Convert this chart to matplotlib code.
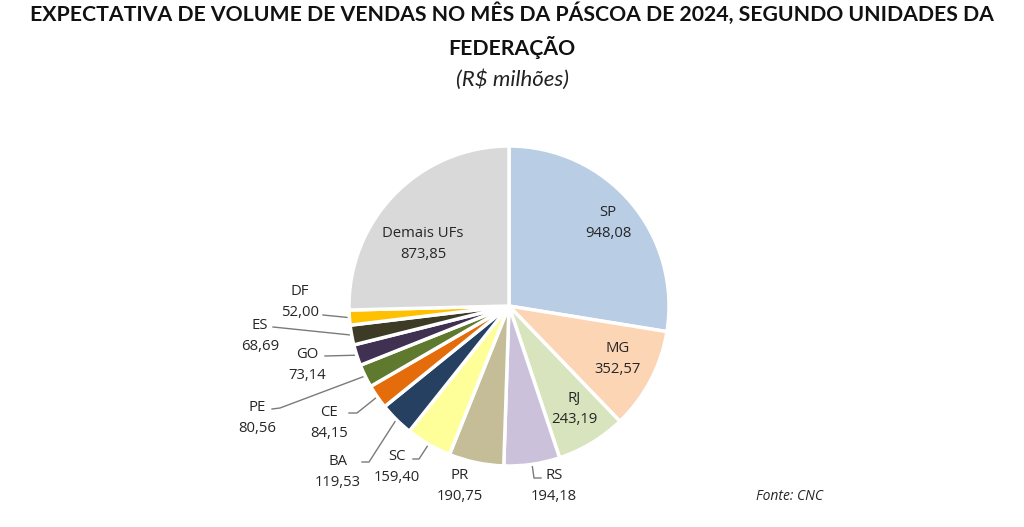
import numpy as np
import matplotlib
matplotlib.use("Agg")
import matplotlib.pyplot as plt

# =====================================================
# DADOS
# =====================================================
ufs = ["SP", "MG", "RJ", "RS", "PR", "SC", "BA", "CE", "PE", "GO", "ES", "DF", "Demais UFs"]
valores = [948.08, 352.57, 243.19, 194.18, 190.75, 159.40, 119.53, 84.15, 80.56, 73.14, 68.69, 52.00, 873.85]
cores = ["#b9cde5", "#fcd5b5", "#d7e4bd", "#ccc1da", "#c4bd97", "#ffff99",
         "#254061", "#e46c0a", "#5f7a2e", "#403152", "#3d3a26", "#ffc000", "#d9d9d9"]

TITULO = "EXPECTATIVA DE VOLUME DE VENDAS NO MÊS DA PÁSCOA DE 2024, SEGUNDO UNIDADES DA\nFEDERAÇÃO"
SUBTITULO = "(R$ milhões)"
FONTE = "Fonte: CNC"

# posição dos rótulos (pixels da imagem) e ponto de quebra da linha guia
rotulo_pos = {
    "SP": (608, 223), "MG": (618, 359), "RJ": (574, 409), "Demais UFs": (423, 244),
    "RS": (554, 486), "PR": (460, 486), "SC": (397, 467), "BA": (338, 472),
    "CE": (329, 423), "PE": (257, 418), "GO": (307, 365), "ES": (260, 336),
    "DF": (300, 302),
}
guia_pos = {
    "RS": [(541, 478), (534, 478)],
    "SC": [(413, 459), (419, 459)],
    "BA": [(362, 462), (369, 462)],
    "CE": [(349, 413), (357, 413)],
    "PE": [(272, 409), (280, 408)],
    "GO": [(325, 356)],
    "ES": [(273, 327)],
    "DF": [(323, 315)],
}

W, H = 1024, 527
CX, CY, R = 509, 306, 160

plt.rcParams["font.family"] = ["Open Sans", "DejaVu Sans"]

fig = plt.figure(figsize=(W / 100, H / 100), dpi=100)
ax = fig.add_axes([0, 0, 1, 1])

wedges, _ = ax.pie(
    valores,
    colors=cores,
    startangle=90,
    counterclock=False,
    center=(CX, H - CY),
    radius=R,
    wedgeprops=dict(edgecolor="white", linewidth=2.5),
)

ax.set_xlim(0, W)
ax.set_ylim(0, H)
ax.set_aspect("equal")
ax.axis("off")

# rótulos
for uf, val, w in zip(ufs, valores, wedges):
    x, y = rotulo_pos[uf]
    txt = f"{uf}\n{val:.2f}".replace(".", ",")
    ax.text(x, H - y, txt, ha="center", va="center", fontsize=10.7,
            color="#262626", linespacing=1.5)
    if uf in guia_pos:
        ang = np.deg2rad((w.theta1 + w.theta2) / 2)
        ex = CX + R * np.cos(ang)
        ey = CY - R * np.sin(ang)
        pts = guia_pos[uf] + [(ex, ey)]
        xs = [p[0] for p in pts]
        ys = [H - p[1] for p in pts]
        ax.plot(xs, ys, color="#7a7a7a", linewidth=1.0, zorder=0)

# títulos
ax.text(W / 2, H - 31, TITULO, ha="center", va="center", fontsize=15.3,
        fontweight="bold", family=["Lato", "DejaVu Sans"], color="#111111",
        linespacing=1.6)
ax.text(W / 2, H - 80, SUBTITULO, ha="center", va="center", fontsize=16,
        style="italic", family=["Lato", "DejaVu Sans"], color="#222222")
ax.text(790, H - 497, FONTE, ha="center", va="center", fontsize=10,
        style="italic", color="#262626")

fig.savefig("out.png", dpi=100)
plt.close(fig)
